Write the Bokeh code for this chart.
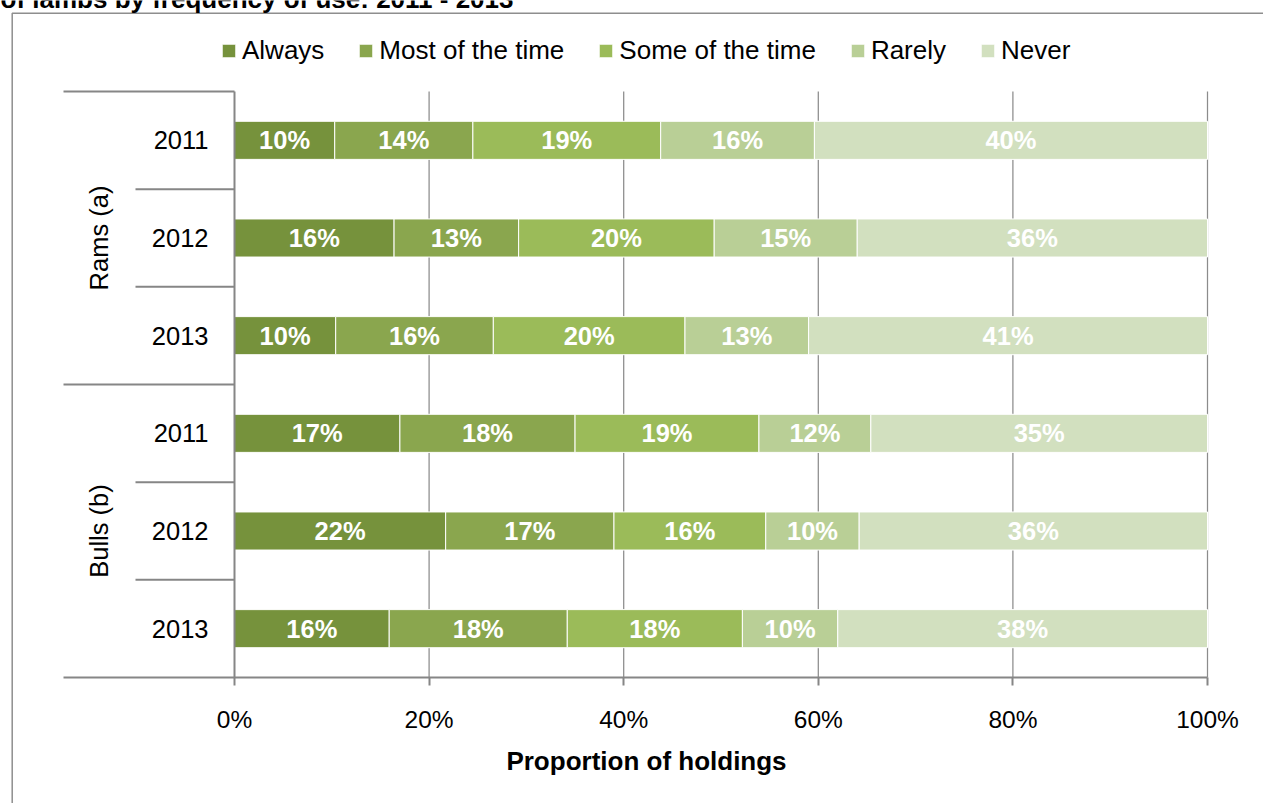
import numpy as np
from bokeh.plotting import figure
from bokeh.models import (Range1d, LinearAxis, FixedTicker, PrintfTickFormatter,
                          Legend, LegendItem, ColumnDataSource, Label)
from bokeh.core.properties import value
from bokeh.embed import file_html
from bokeh.resources import INLINE

# ---------------- data ----------------
title_text = "of lambs by frequency of use: 2011 - 2013"
groups = ["Rams (a)", "Bulls (b)"]
years = ["2011", "2012", "2013"]
series = ["Always", "Most of the time", "Some of the time", "Rarely", "Never"]
# rows (top to bottom): Rams 2011, 2012, 2013, Bulls 2011, 2012, 2013  (percent)
always = [10.3, 16.4, 10.4, 17.0, 21.7, 15.9]
most_of_the_time = [14.2, 12.8, 16.2, 18.0, 17.3, 18.3]
some_of_the_time = [19.3, 20.1, 19.7, 18.9, 15.6, 18.0]
rarely = [15.8, 14.7, 12.7, 11.5, 9.6, 9.8]
never = [40.4, 36.0, 41.0, 34.6, 35.8, 38.0]
x_ticks = [0, 20, 40, 60, 80, 100]
x_title = "Proportion of holdings"

# ---------------- styles / layout ----------------
colors = ["#76923C", "#8AA64E", "#9BBB59", "#B9CF96", "#D2E0BF"]
FONT = "Liberation Sans"
GRAY = "#868686"
FIG_W, FIG_H = 1263, 803
OFF = 0                      # picture offset of the figure
X0_PX, X100_PX = 234, 1207   # picture pixels of 0% and 100%
TOP_PX, BOT_PX = 91, 677     # picture pixels of category area
S = (X100_PX - X0_PX) / 100.0
NROWS = len(groups) * len(years)
H = (BOT_PX - TOP_PX) / NROWS


def xd(px):
    return (px - X0_PX) / S


def yd(py):
    return (py - TOP_PX) / H


p = figure(width=FIG_W, height=FIG_H,
           x_range=Range1d(xd(OFF), xd(OFF + FIG_W)),
           y_range=Range1d(yd(OFF + FIG_H), yd(OFF)),
           x_axis_type=None, y_axis_type=None,
           toolbar_location=None, output_backend="svg",
           min_border=0, min_border_left=0, min_border_right=0,
           min_border_top=0, min_border_bottom=0,
           outline_line_color=None, background_fill_color="white")

centers = [i + 0.5 for i in range(NROWS)]

# gridlines
grid_x = [t for t in x_ticks if t > x_ticks[0]]
p.segment(x0=grid_x, y0=[0] * len(grid_x), x1=grid_x, y1=[NROWS] * len(grid_x),
          line_color="#8C8C8C", line_width=1.25)

# stacked bars
vals = np.array([always, most_of_the_time, some_of_the_time, rarely, never])
cum = np.cumsum(vals, axis=0)
renderers = []
for j, name in enumerate(series):
    right = cum[j]
    left = right - vals[j]
    src = ColumnDataSource(dict(y=centers, left=left, right=right,
                                xm=(left + right) / 2,
                                lab=[f"{v:.0f}%" for v in vals[j]]))
    r = p.hbar(y="y", left="left", right="right", height=0.39, source=src,
               fill_color=colors[j], line_color="white", line_width=1)
    renderers.append(r)
    p.text(x="xm", y="y", text="lab", source=src, text_color="white",
           text_font=value(FONT), text_font_size="25.5px", text_font_style="bold",
           text_align="center", text_baseline="middle")

# category separators
sep_y = list(range(NROWS + 1))
sep_x0 = [xd(63) if k % len(years) == 0 else xd(135) for k in sep_y]
sep_x1 = [0] * NROWS + [x_ticks[-1]]
p.segment(x0=sep_x0, y0=sep_y, x1=sep_x1, y1=sep_y, line_color=GRAY, line_width=2)

# group labels (rotated)
p.text(x=[xd(98)] * len(groups), y=[len(years) * (g + 0.5) for g in range(len(groups))],
       text=groups, angle=np.pi / 2, text_color="black",
       text_font=value(FONT), text_font_size="25.5px",
       text_align="center", text_baseline="middle")

# chart-area border
p.line(x=[xd(11.7), xd(11.7), xd(OFF + FIG_W + 4)], y=[yd(OFF + FIG_H + 4), yd(12.8), yd(12.8)],
       line_color="#8E8E8E", line_width=1.5)

# y axis (years) at x = 0
yaxis = LinearAxis(fixed_location=0, bounds=(0, NROWS),
                   ticker=FixedTicker(ticks=centers),
                   major_label_overrides={c: years[i % len(years)] for i, c in enumerate(centers)},
                   axis_line_color=GRAY, axis_line_width=2,
                   major_tick_line_color=None, minor_tick_line_color=None,
                   major_tick_in=0, major_tick_out=0, major_label_standoff=26,
                   major_label_text_font=FONT, major_label_text_font_size="25.5px",
                   major_label_text_color="black")
p.add_layout(yaxis, "left")

# x axis at bottom of categories
xaxis = LinearAxis(fixed_location=NROWS, bounds=(xd(85), x_ticks[-1]),
                   ticker=FixedTicker(ticks=x_ticks),
                   formatter=PrintfTickFormatter(format="%d%%"),
                   axis_line_color=None,
                   major_tick_line_color=GRAY, major_tick_line_width=2,
                   major_tick_in=0, major_tick_out=8,
                   minor_tick_line_color=None,
                   major_label_standoff=20,
                   major_label_text_font=FONT, major_label_text_font_size="24.5px",
                   major_label_text_color="black",
                   axis_label=x_title, axis_label_standoff=10,
                   axis_label_text_font=FONT, axis_label_text_font_size="26px",
                   axis_label_text_font_style="bold", axis_label_text_color="black")
p.add_layout(xaxis, "below")

# legend
legend = Legend(items=[LegendItem(label=s, renderers=[r]) for s, r in zip(series, renderers)],
                orientation="horizontal", location=(220 - OFF, FIG_H - 66),
                glyph_width=17, glyph_height=17, label_standoff=5, spacing=33,
                padding=0, margin=0, border_line_color=None, background_fill_alpha=0,
                label_text_font=FONT, label_text_font_size="26px", label_text_color="black")
p.add_layout(legend, "center")

# partially visible chart title (cut off at top in the reference)
p.add_layout(Label(x=0, y=FIG_H + 1.6, x_units="screen", y_units="screen", text=title_text,
                   text_font=FONT, text_font_size="26px", text_font_style="bold",
                   text_color="black", text_baseline="alphabetic"))

open("out.html", "w").write(file_html(p, INLINE))
